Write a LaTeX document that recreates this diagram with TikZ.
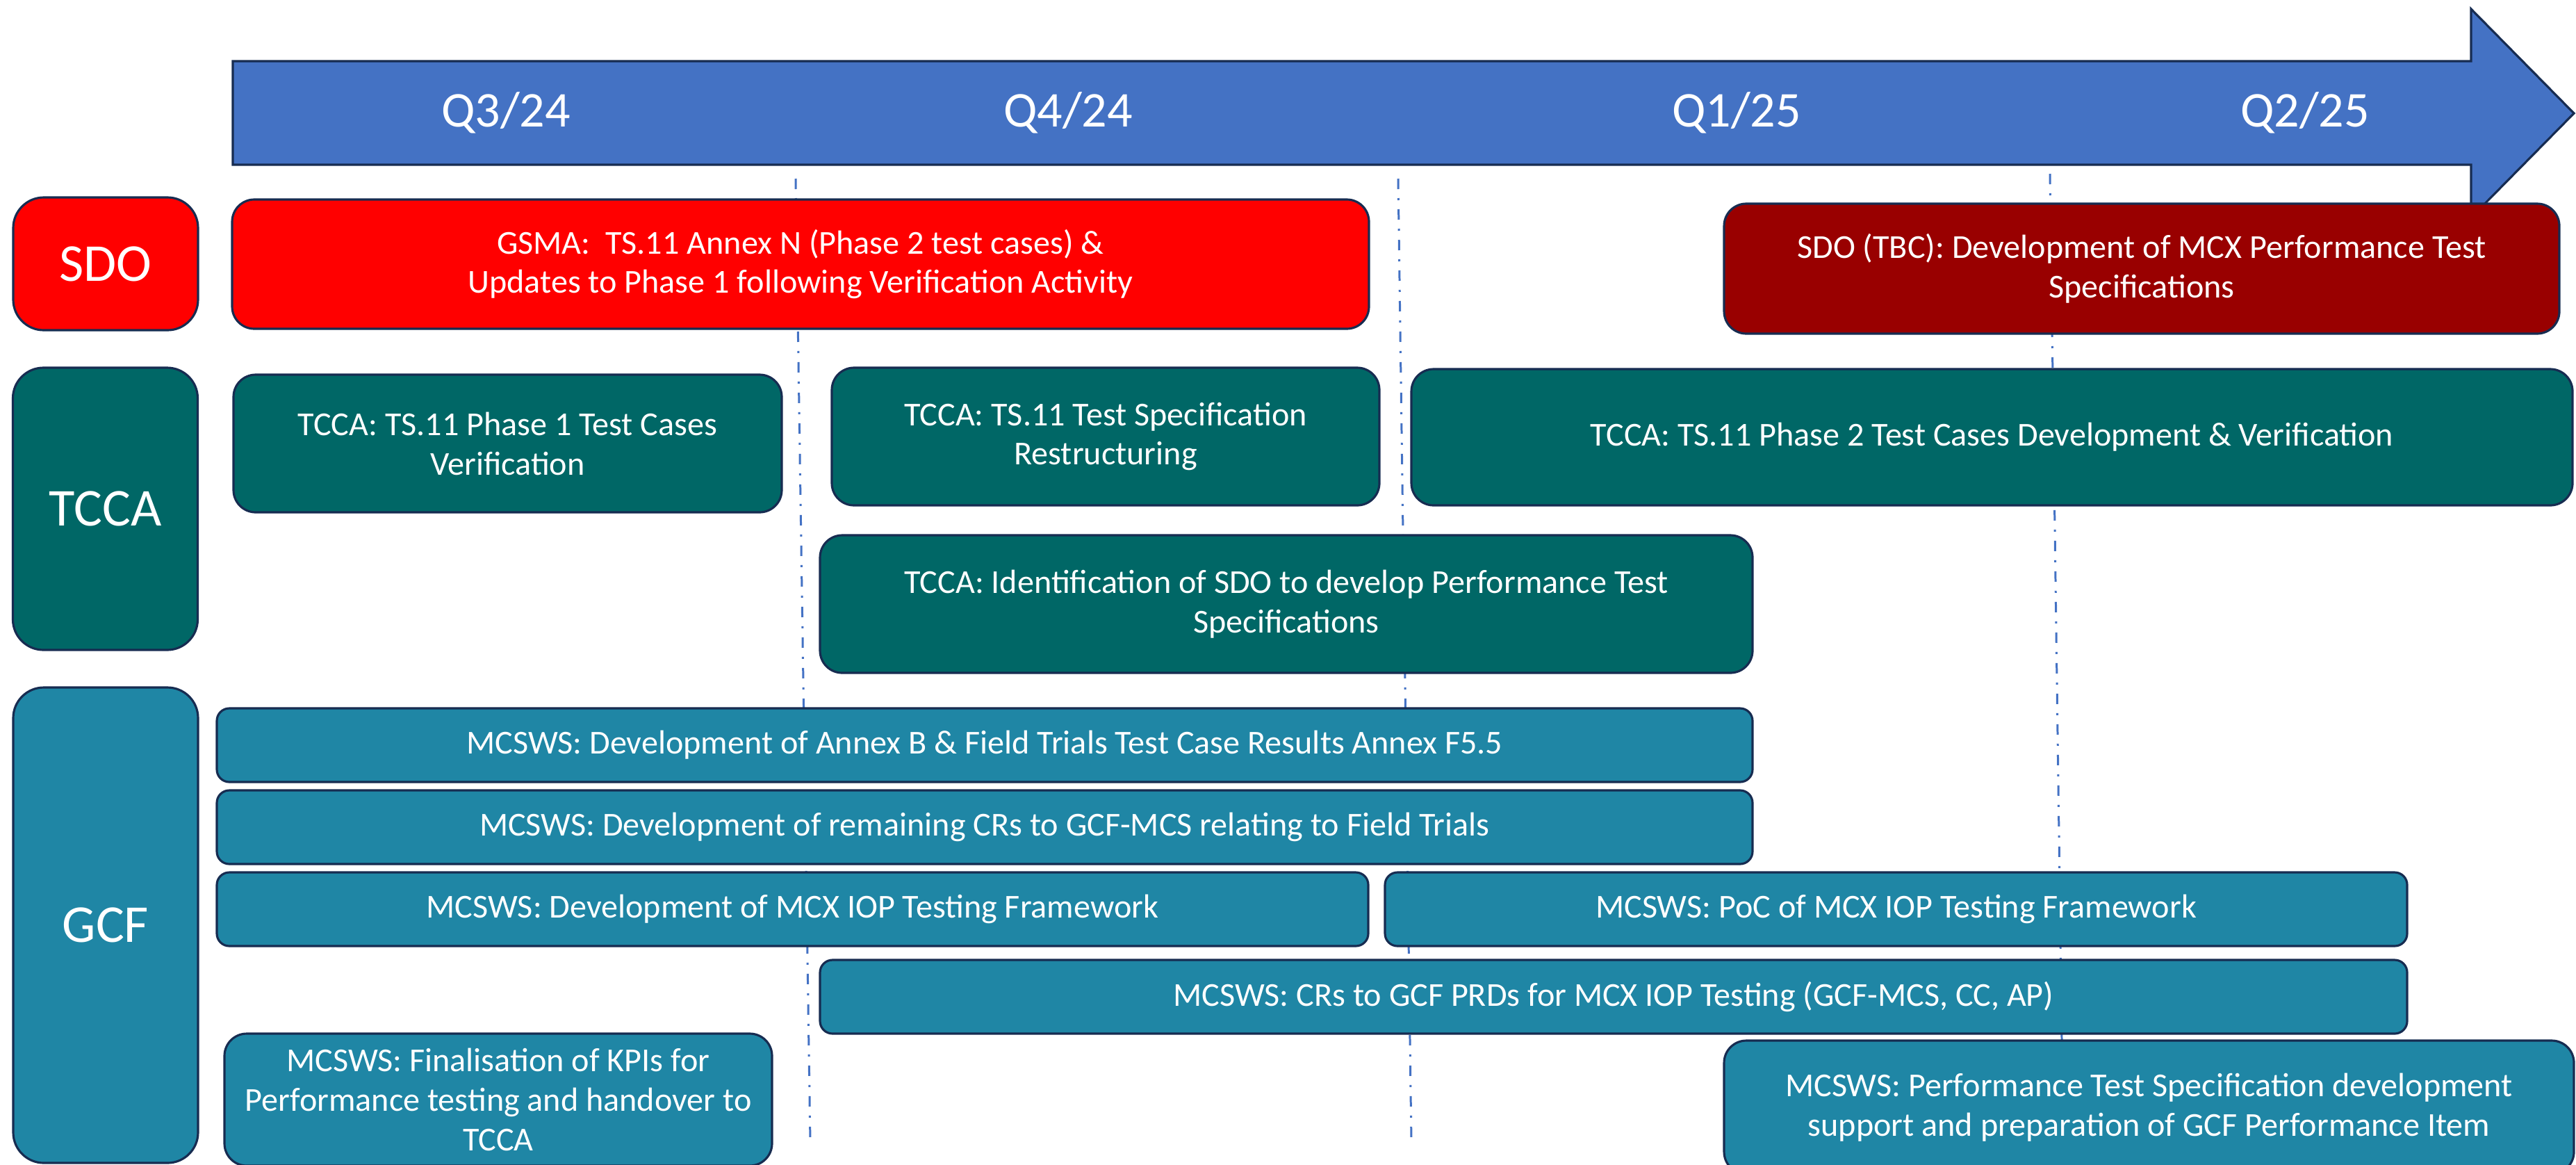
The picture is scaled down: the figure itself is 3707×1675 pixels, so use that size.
\documentclass[tikz,border=0pt]{standalone}
\usepackage{fontspec}
\setmainfont{Carlito}
\usepackage{xcolor}
\definecolor{arrowblue}{HTML}{4472C4}
\definecolor{outline}{HTML}{172C51}
\definecolor{sdored}{HTML}{FF0000}
\definecolor{tbcred}{HTML}{990000}
\definecolor{tccagreen}{HTML}{006766}
\definecolor{gcfblue}{HTML}{1F86A5}

\begin{document}
\begin{tikzpicture}[x=0.1mm, y=-0.1mm,
    lane/.style={shape=rectangle, rounded corners=4.4mm, draw=outline, line width=0.9pt, text=white,
      inner sep=0pt, minimum width=26.6mm, font=\fontsize{21.8}{25}\selectfont},
    task/.style={shape=rectangle, rounded corners=3.2mm, draw=outline, line width=0.9pt, text=white,
      inner sep=0pt, align=center, font=\fontsize{13.7}{16.2}\selectfont},
    slim/.style={task, rounded corners=1.8mm, minimum height=10.6mm},
    quarter/.style={anchor=base, text=white, font=\fontsize{20.5}{24}\selectfont},
    qline/.style={draw=arrowblue, line width=0.85pt, dash pattern=on 1.5mm off 1.3mm on 0.3mm off 1.3mm}]
    \useasboundingbox (0,0) rectangle (3707,1675);

    % time arrow
    \draw[fill=arrowblue, draw=outline, line width=0.9pt]
      (335,88) -- (3556,88) -- (3556,13) -- (3704,163) -- (3556,313) -- (3556,237) -- (335,237) -- cycle;
    \node[quarter] (q3) at (728,182) {Q3/24};
    \node[quarter] (q4) at (1537,182) {Q4/24};
    \node[quarter] (q1) at (2499,182) {Q1/25};
    \node[quarter] (q2) at (3317,182) {Q2/25};

    % quarter boundaries
    \draw[qline] (1145,257) -- (1166,1643);
    \draw[qline] (2012,257) -- (2031,1643);
    \draw[qline] (2950,250) -- (2969,1643);

    % lanes
    \node[lane, fill=sdored, minimum height=19.1mm] (sdo) at (152,379.5) {SDO};
    \node[lane, fill=tccagreen, minimum height=40.6mm] (tcca) at (151.5,732) {TCCA};
    \node[lane, fill=gcfblue, minimum height=68.4mm] (gcf) at (152,1331) {GCF};

    % SDO
    \node[task, fill=sdored, minimum width=163.6mm, minimum height=18.6mm] (gsma) at (1152,380)
      {GSMA:\ \ TS.11 Annex N (Phase 2 test cases) \&\\Updates to Phase 1 following Verification Activity};
    \node[task, fill=tbcred, minimum width=120.2mm, minimum height=18.7mm] (sdotbc) at (3082,386.5)
      {SDO (TBC): Development of MCX Performance Test\\Specifications};

    % TCCA
    \node[task, fill=tccagreen, minimum width=78.9mm, minimum height=19.8mm] (verif) at (730.5,638)
      {TCCA: TS.11 Phase 1 Test Cases\\Verification};
    \node[task, fill=tccagreen, minimum width=78.8mm, minimum height=19.8mm] (restruct) at (1591,628)
      {TCCA: TS.11 Test Specification\\Restructuring};
    \node[task, fill=tccagreen, minimum width=167.1mm, minimum height=19.6mm] (phase2) at (2866.5,629)
      {TCCA: TS.11 Phase 2 Test Cases Development \& Verification};
    \node[task, fill=tccagreen, minimum width=134.2mm, minimum height=19.8mm] (ident) at (1851,869)
      {TCCA: Identification of SDO to develop Performance Test\\Specifications};

    % GCF
    \node[slim, fill=gcfblue, minimum width=221mm] (annexb) at (1417,1072)
      {MCSWS: Development of Annex B \& Field Trials Test Case Results Annex F5.5};
    \node[slim, fill=gcfblue, minimum width=221mm] (fieldcr) at (1417,1190)
      {MCSWS: Development of remaining CRs to GCF-MCS relating to Field Trials};
    \node[slim, fill=gcfblue, minimum width=165.7mm] (iopdev) at (1140.5,1308)
      {MCSWS: Development of MCX IOP Testing Framework};
    \node[slim, fill=gcfblue, minimum width=147.1mm] (iopoc) at (2728.5,1308)
      {MCSWS: PoC of MCX IOP Testing Framework};
    \node[slim, fill=gcfblue, minimum width=228.4mm] (prdcr) at (2322,1434)
      {MCSWS: CRs to GCF PRDs for MCX IOP Testing (GCF-MCS, CC, AP)};
    \node[task, fill=gcfblue, minimum width=78.8mm, minimum height=19mm] (kpi) at (717,1582)
      {MCSWS: Finalisation of KPIs for\\Performance testing and handover to\\TCCA};
    \node[task, fill=gcfblue, minimum width=122.3mm, minimum height=19.2mm] (perf) at (3092.5,1593)
      {MCSWS: Performance Test Specification development\\support and preparation of GCF Performance Item};
  \end{tikzpicture}
\end{document}
